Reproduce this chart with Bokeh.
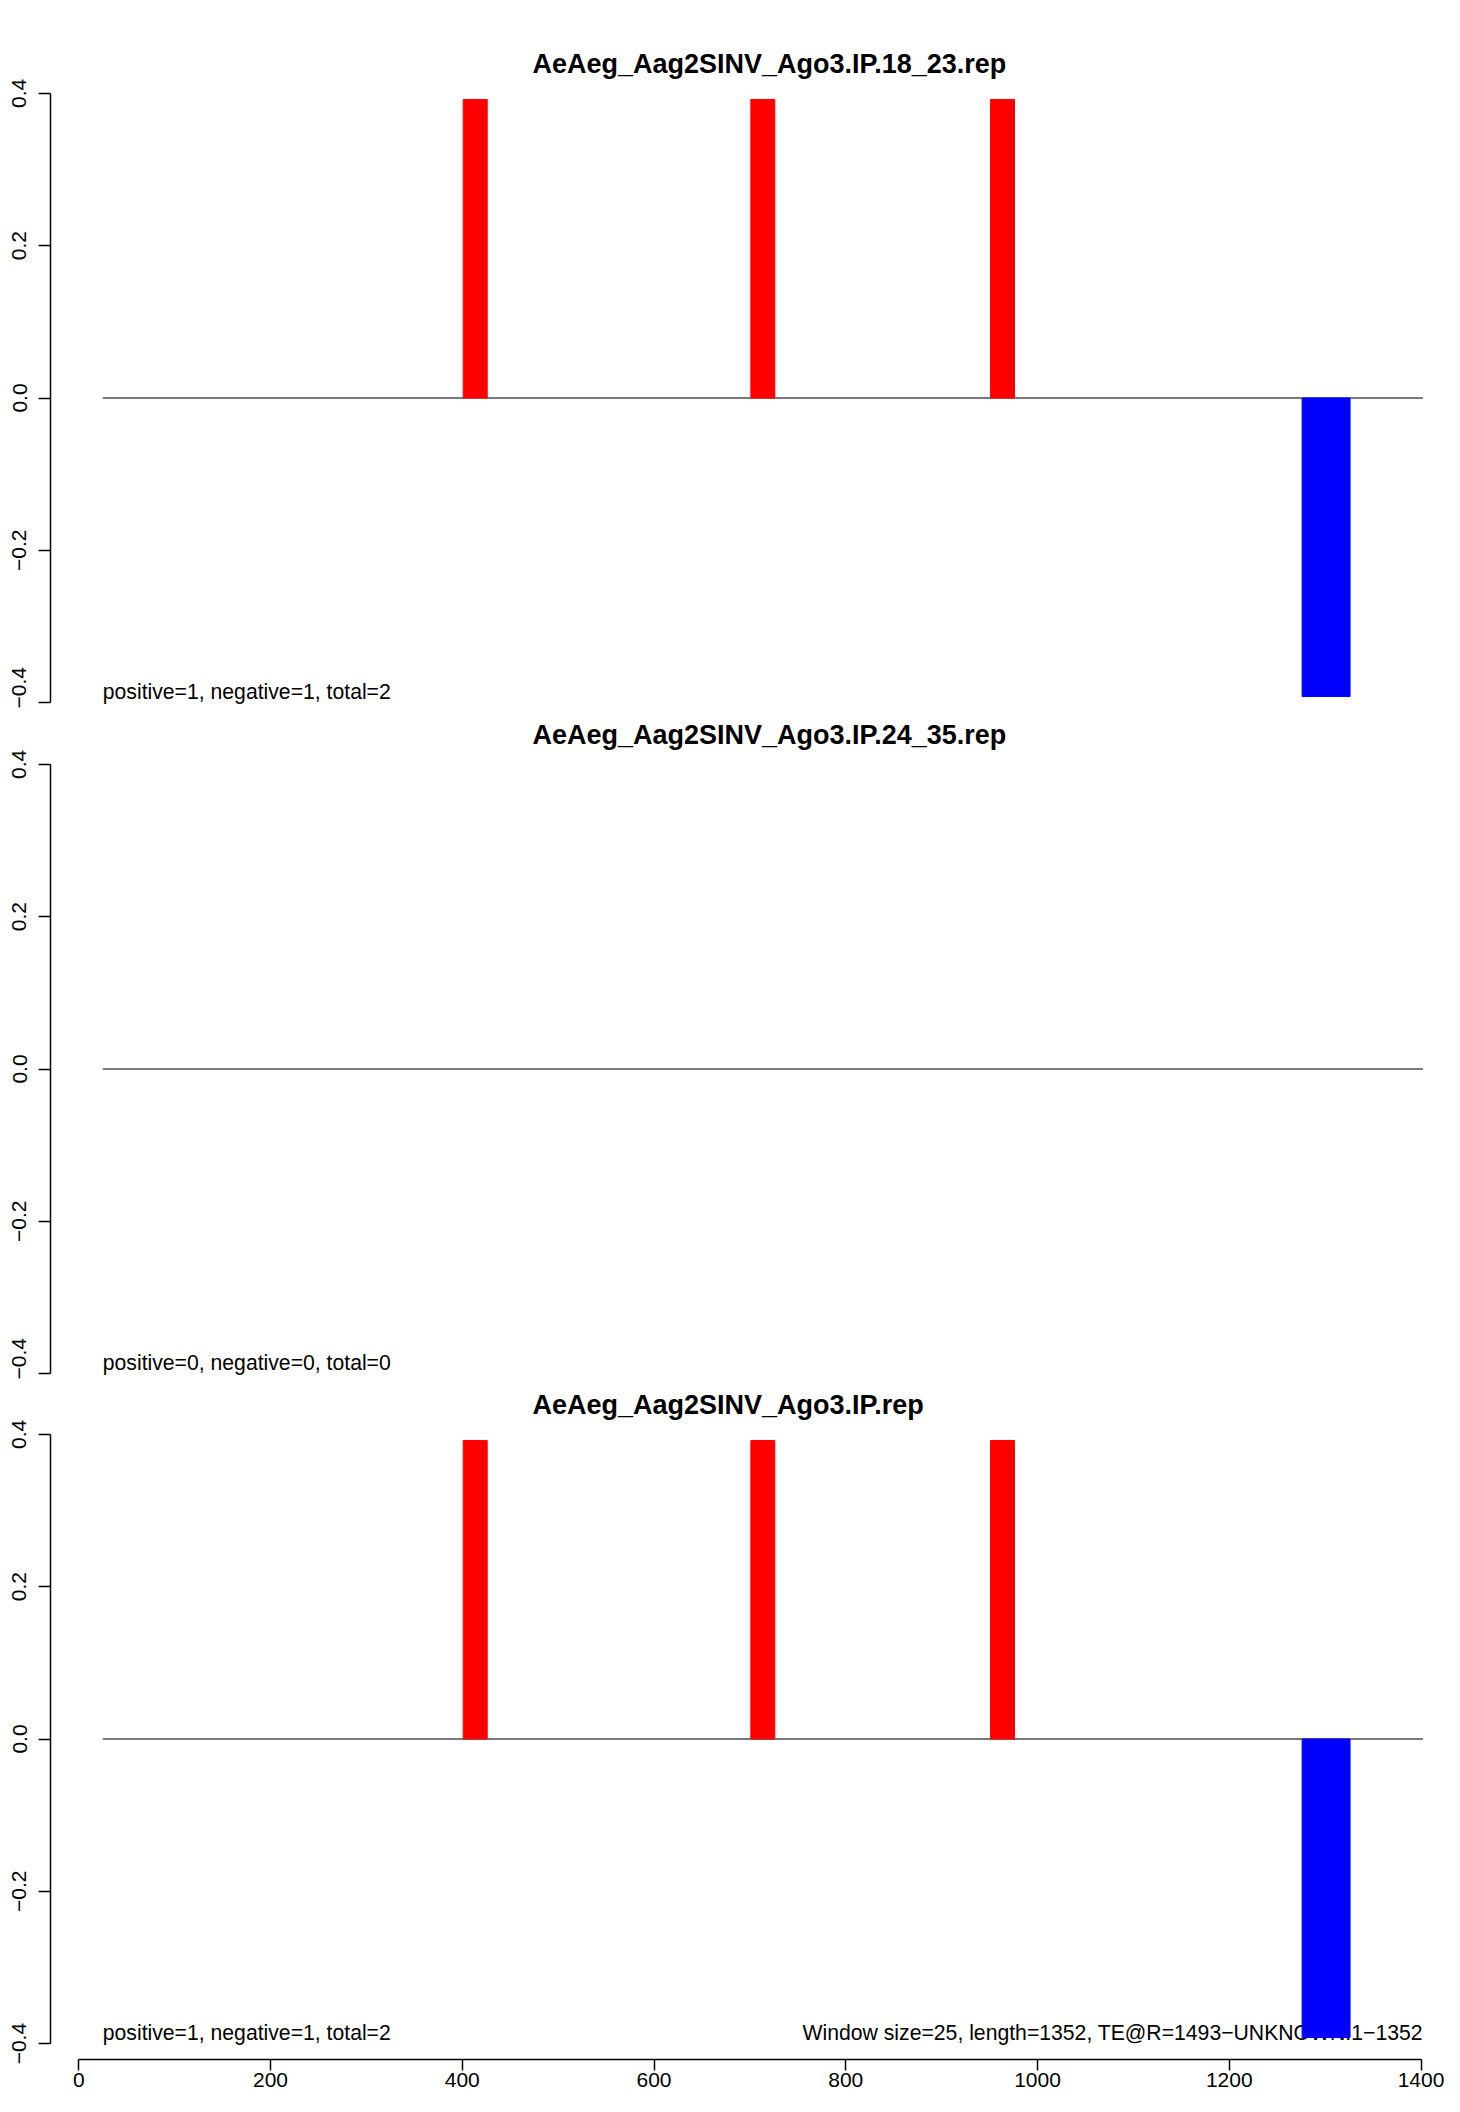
from bokeh.plotting import figure
from bokeh.layouts import column
from bokeh.models import Range1d, FixedTicker, CustomJSTickFormatter
from bokeh.core.properties import value
from bokeh.embed import file_html
from bokeh.resources import INLINE

# ---------------- data ----------------
panel_titles = ["AeAeg_Aag2SINV_Ago3.IP.18_23.rep",
                "AeAeg_Aag2SINV_Ago3.IP.24_35.rep",
                "AeAeg_Aag2SINV_Ago3.IP.rep"]
window_size = 25
seq_length = 1352
# window start positions and signal per panel (sense = red, antisense = blue)
pos_starts = [[401, 701, 951], [], [401, 701, 951]]
pos_values = [[0.392, 0.392, 0.392], [], [0.392, 0.392, 0.392]]
neg_starts = [[1276, 1301], [], [1276, 1301]]
neg_values = [[-0.392, -0.392], [], [-0.392, -0.392]]
positive_counts = [1, 0, 1]
negative_counts = [1, 0, 1]
total_counts = [2, 0, 2]
zero_line_x = [25, 1402]
y_ticks = [-0.4, -0.2, 0.0, 0.2, 0.4]
x_ticks = [0, 200, 400, 600, 800, 1000, 1200, 1400]
footer_text = "Window size=25, length=1352, TE@R=1493\u2212UNKNOWN:1\u22121352"
footer_x = 1402
count_text_x = 25
count_text_y = -0.386

FONT = "Liberation Sans"
FRAME_LEFT = 50
FIG_W = 1444
PX_X = (1420.5 - 78.3) / 1400.0
XR = ((FRAME_LEFT - 78.3) / PX_X, (FIG_W - 78.3) / PX_X)
YR = 0.4077
PX_PER_UNIT = 621 / (2 * YR)

tops = [87, 50, 49]
frames = [621, 621, 631]
bottoms = [0, 0, 37]

figs = []
for i, title in enumerate(panel_titles):
    last = (i == len(panel_titles) - 1)
    frame_h = frames[i]
    top_b = tops[i]
    bot_b = bottoms[i]
    ylo = YR - frame_h / PX_PER_UNIT
    p = figure(width=FIG_W, height=top_b + frame_h + bot_b,
               x_range=Range1d(*XR), y_range=Range1d(ylo, YR),
               output_backend="svg", toolbar_location=None,
               min_border_left=FRAME_LEFT, min_border_right=0,
               min_border_top=top_b, min_border_bottom=bot_b,
               background_fill_color="white", border_fill_color="white")
    p.outline_line_color = None
    p.grid.visible = False

    p.title.text = title
    p.title.align = "left"
    p.title.offset = 482
    p.title.standoff = 17
    p.title.text_font = FONT
    p.title.text_font_size = "27px"
    p.title.text_font_style = "bold"
    p.title.text_color = "black"

    # y axis
    ya = p.yaxis[0]
    ya.ticker = FixedTicker(ticks=y_ticks)
    ya.formatter = CustomJSTickFormatter(
        code='return (tick < -1e-9 ? "\\u2212" : "") + Math.abs(tick).toFixed(1);')
    ya.bounds = (y_ticks[0], y_ticks[-1])
    ya.major_label_orientation = "vertical"
    ya.major_tick_out = 12
    ya.major_tick_in = 0
    ya.minor_tick_out = 0
    ya.minor_tick_in = 0
    ya.major_label_standoff = 12
    ya.axis_line_width = 1.5
    ya.major_tick_line_width = 1.5
    ya.major_label_text_font = FONT
    ya.major_label_text_font_size = "21px"
    ya.major_label_text_color = "black"

    xa = p.xaxis[0]
    if last:
        xa.ticker = FixedTicker(ticks=x_ticks)
        xa.bounds = (x_ticks[0], x_ticks[-1])
        xa.major_tick_out = 11
        xa.major_tick_in = 0
        xa.minor_tick_out = 0
        xa.minor_tick_in = 0
        xa.major_label_standoff = 2
        xa.axis_line_width = 1.5
        xa.major_tick_line_width = 1.5
        xa.major_label_text_font = FONT
        xa.major_label_text_font_size = "21px"
        xa.major_label_text_color = "black"
    else:
        xa.visible = False

    # zero line
    p.line(zero_line_x, [0, 0], line_color="#4d4d4d", line_width=1.3)

    # count text (drawn before bars, bars overlap it)
    p.text(x=[count_text_x], y=[count_text_y],
           text=["positive=%d, negative=%d, total=%d" % (positive_counts[i], negative_counts[i], total_counts[i])],
           text_font=value(FONT), text_font_size="21.2px", text_color="black",
           text_align="left", text_baseline="middle")
    if last:
        p.text(x=[footer_x], y=[count_text_y], text=[footer_text],
               text_font=value(FONT), text_font_size="21.2px", text_color="black",
               text_align="right", text_baseline="middle")

    if pos_starts[i]:
        p.quad(left=pos_starts[i], right=[s + window_size for s in pos_starts[i]],
               bottom=[0] * len(pos_starts[i]), top=pos_values[i],
               fill_color="#FF0000", line_color="#FF0000", line_width=1)
    if neg_starts[i]:
        p.quad(left=neg_starts[i], right=[s + window_size for s in neg_starts[i]],
               bottom=[0] * len(neg_starts[i]), top=neg_values[i],
               fill_color="#0000FF", line_color="#0000FF", line_width=1)
    figs.append(p)

layout = column(*figs, spacing=0)
open("out.html", "w").write(file_html(layout, INLINE))
